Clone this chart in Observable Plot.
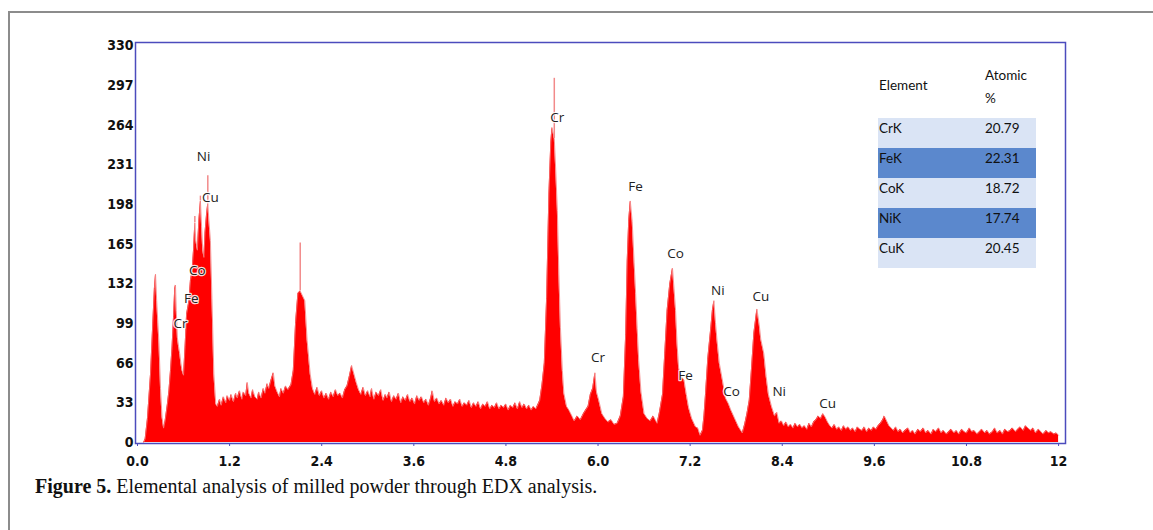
<!DOCTYPE html>
<html><head><meta charset="utf-8">
<script src="https://cdn.jsdelivr.net/npm/d3@7"></script>
<script src="https://cdn.jsdelivr.net/npm/@observablehq/plot@0.6"></script>
<style>
html,body{margin:0;padding:0;background:#fff;width:1153px;height:530px;overflow:hidden;}
#page{position:relative;width:1153px;height:530px;overflow:hidden;background:#fff;}
#outer{position:absolute;left:8px;top:11px;width:1300px;height:700px;border:2px solid #8c8c8c;box-sizing:border-box;}
#chart{position:absolute;left:0;top:0;}
#table{position:absolute;left:878px;top:62px;width:158px;font-family:Lato,"Open Sans",sans-serif;font-size:13.5px;color:#111;}
#table .hdr{position:relative;height:56px;}
#table .row{position:relative;height:30px;}
#table .c1{position:absolute;left:1px;}
#table .c2{position:absolute;left:107px;}
#caption{position:absolute;left:35px;top:475px;font-family:"Liberation Serif","Times New Roman",serif;font-size:20px;color:#111;white-space:nowrap;}
</style></head>
<body><div id="page"><div id="outer"></div><div id="chart"></div><div id="table"></div>
<div id="caption"><b>Figure 5.</b> Elemental analysis of milled powder through EDX analysis.</div></div>
<script>
// EDX spectrum: [energy keV, counts]
const spectrum = [
[0.08,0],[0.10,3],[0.13,20],[0.17,57],[0.20,100],[0.22,128],[0.235,140],[0.25,118],[0.265,100],[0.28,82],[0.30,45],[0.32,21],[0.34,12],[0.36,18],[0.39,32],[0.41,43],[0.43,60],[0.45,79],[0.47,105],[0.485,128],[0.495,131],[0.505,110],[0.52,87],[0.535,80],[0.55,74],[0.565,66],[0.58,60],[0.60,56],[0.62,80],[0.64,107],[0.66,114],[0.67,118],[0.69,135],[0.71,142],[0.73,160],[0.747,183],[0.76,168],[0.78,160],[0.80,185],[0.82,201],[0.835,180],[0.85,160],[0.865,154],[0.88,175],[0.90,190],[0.916,199],[0.93,185],[0.95,168],[0.97,120],[0.995,57],[1.02,32],[1.04,30],
[1.07,36],[1.09,31],[1.12,38],[1.15,33],[1.17,39],[1.20,35],[1.22,40],[1.25,34],[1.28,41],[1.30,37],[1.33,43],[1.36,36],[1.38,42],[1.41,39],[1.43,50],[1.45,41],[1.48,37],[1.50,44],[1.53,38],[1.56,36],[1.58,42],[1.61,37],[1.64,45],[1.66,41],[1.69,49],[1.71,45],[1.74,52],[1.77,58],[1.79,47],[1.82,42],[1.85,38],[1.87,45],[1.90,41],[1.93,47],[1.96,44],[2.00,48],[2.03,60],[2.06,100],[2.09,124],[2.12,126],[2.15,122],[2.18,118],[2.21,85],[2.25,57],[2.28,45],[2.31,40],
[2.34,46],[2.37,39],[2.40,43],[2.43,37],[2.46,41],[2.49,36],[2.52,42],[2.55,38],[2.58,44],[2.61,39],[2.64,41],[2.67,37],[2.70,44],[2.73,47],[2.76,55],[2.79,64],[2.82,57],[2.85,50],[2.88,44],[2.91,40],[2.94,46],[2.97,39],
[3.00,43],[3.03,38],[3.05,45],[3.08,36],[3.11,42],[3.14,39],[3.17,44],[3.20,35],[3.23,40],[3.25,37],[3.28,42],[3.31,34],[3.34,39],[3.37,36],[3.40,41],[3.43,33],[3.46,38],[3.49,35],[3.52,40],[3.55,34],[3.58,37],[3.61,32],[3.64,39],[3.67,35],[3.70,38],[3.73,33],[3.76,36],[3.79,31],[3.82,37],[3.84,43],[3.87,34],[3.90,37],[3.93,32],[3.96,35],[3.99,31],[4.02,37],[4.05,33],[4.08,36],[4.11,30],[4.14,34],[4.17,32],[4.20,36],[4.23,30],[4.26,33],[4.29,31],[4.32,35],[4.35,29],[4.38,33],[4.41,30],[4.44,34],[4.47,28],[4.50,32],[4.53,30],[4.56,34],[4.59,28],[4.62,31],[4.65,29],[4.68,33],[4.71,28],[4.74,31],[4.77,29],[4.80,32],[4.83,27],[4.86,31],[4.89,29],[4.92,33],[4.95,28],[4.98,34],[5.01,29],[5.04,32],[5.07,28],[5.10,31],[5.13,27],[5.16,30],[5.19,28],[5.22,32],[5.24,35],
[5.27,48],[5.30,66],[5.33,120],[5.36,207],[5.385,250],[5.40,262],[5.43,253],[5.45,225],[5.47,193],[5.49,140],[5.51,96],[5.535,60],[5.555,41],[5.59,30],[5.62,27],[5.66,22],[5.69,18],[5.73,22],[5.77,19],[5.81,24],[5.84,27],[5.87,30],[5.90,40],[5.93,45],[5.96,58],[5.98,42],[6.01,35],[6.05,24],[6.09,20],[6.13,17],[6.17,19],[6.21,15],[6.25,16],[6.29,22],
[6.33,38],[6.36,90],[6.38,151],[6.40,185],[6.42,201],[6.445,184],[6.47,150],[6.49,124],[6.51,95],[6.53,68],[6.56,42],[6.60,24],[6.64,20],[6.68,18],[6.72,22],[6.77,16],[6.80,25],[6.84,40],[6.87,75],[6.90,110],[6.935,132],[6.97,145],[6.99,128],[7.01,110],[7.03,82],[7.05,62],[7.08,55],[7.12,52],[7.15,40],[7.18,29],[7.22,20],[7.27,13],[7.30,12],[7.33,6],[7.36,10],[7.38,22],
[7.40,40],[7.43,70],[7.47,96],[7.49,110],[7.51,118],[7.53,100],[7.55,85],[7.58,66],[7.62,52],[7.66,37],[7.70,32],[7.73,27],[7.78,20],[7.83,13],[7.88,8],[7.91,15],[7.94,24],[7.97,35],[8.00,62],[8.03,91],[8.07,111],[8.10,98],[8.12,86],[8.16,74],[8.19,55],[8.22,40],[8.26,30],[8.30,22],[8.33,25],[8.36,16],[8.39,18],[8.42,14],[8.45,17],[8.48,13],[8.51,15],[8.54,12],[8.57,16],[8.60,13],[8.63,15],[8.66,12],[8.69,14],[8.72,11],[8.75,16],[8.78,13],[8.81,17],[8.84,19],[8.87,22],[8.90,20],[8.93,24],[8.96,21],[8.99,17],[9.02,14],[9.05,12],[9.08,15],[9.11,11],[9.14,13],[9.17,10],[9.20,14],[9.23,11],[9.26,13],[9.29,10],[9.32,12],[9.35,9],[9.38,13],[9.41,11],[9.44,10],[9.47,13],[9.50,9],[9.53,12],[9.56,10],[9.59,13],[9.62,11],[9.65,14],[9.68,16],[9.71,19],[9.73,22],[9.76,18],[9.79,14],[9.82,12],[9.85,10],[9.88,13],[9.91,9],[9.94,11],[9.97,8],
[10.00,10],[10.04,12],[10.07,8],[10.10,10],[10.13,7],[10.17,11],[10.20,9],[10.24,12],[10.27,8],[10.30,10],[10.34,7],[10.37,11],[10.40,9],[10.44,12],[10.47,8],[10.50,10],[10.54,7],[10.57,9],[10.60,11],[10.64,8],[10.67,10],[10.70,7],[10.74,11],[10.77,9],[10.80,8],[10.84,12],[10.87,9],[10.90,10],[10.94,7],[10.97,9],[11.00,11],[11.04,8],[11.07,10],[11.10,7],[11.14,9],[11.17,12],[11.20,8],[11.24,10],[11.27,7],[11.30,11],[11.34,9],[11.37,10],[11.40,12],[11.44,9],[11.47,11],[11.50,13],[11.54,10],[11.57,14],[11.60,12],[11.64,10],[11.67,12],[11.70,8],[11.74,11],[11.77,9],[11.80,7],[11.84,10],[11.87,8],[11.90,9],[11.94,7],[11.97,8],[12.00,6]
];

// light-coloured spike tips above the solid peaks
const tipEnergy = [0.747, 0.82, 0.916, 2.12, 5.43];
const tipBase   = [183, 201, 199, 126, 253];
const tipTop    = [188, 205, 222, 166, 303];

// peak labels
const peakLabels = ["Ni","Cu","Co","Fe","Cr","Cr","Fe","Co","Ni","Cu","Cr","Fe","Co","Ni","Cu"];
const peakEnergy = [0.86,0.95,0.78,0.70,0.56,5.47,6.49,7.01,7.56,8.12,6.00,7.14,7.74,8.36,8.99];
const peakCounts = [238,204,143,120,99,270,213,157,126,121,71,56,42,42,32];

// axis ticks
const xTicks = [0, 1.2, 2.4, 3.6, 4.8, 6.0, 7.2, 8.4, 9.6, 10.8, 12];
const xTickLabels = ["0.0","1.2","2.4","3.6","4.8","6.0","7.2","8.4","9.6","10.8","12"];
const yTicks = [0, 33, 66, 99, 132, 165, 198, 231, 264, 297, 330];

// composition table
const elements = ["CrK","FeK","CoK","NiK","CuK"];
const atomicPct = ["20.79","22.31","18.72","17.74","20.45"];

const tips = tipEnergy.map((e,i)=>({e, b: tipBase[i], t: tipTop[i]}));
const labels = peakLabels.map((s,i)=>({s, e: peakEnergy[i], c: peakCounts[i]}));
const axisFont = "'DejaVu Sans Condensed','DejaVu Sans','Liberation Sans Narrow',sans-serif";

const plot = Plot.plot({
  width: 1153, height: 480,
  marginLeft: 135, marginRight: 88, marginTop: 42, marginBottom: 37,
  x: {domain: [-0.026, 12.09], axis: null},
  y: {domain: [-0.8, 332.8], axis: null},
  style: {fontFamily: axisFont, fontSize: "14px", color: "#111", background: "transparent"},
  marks: [
    Plot.areaY(spectrum, {x: d=>d[0], y: d=>d[1], fill: "#ff0000"}),
    Plot.lineY(spectrum, {x: d=>d[0], y: d=>d[1], stroke: "#f47a7a", strokeWidth: 0.8}),
    Plot.ruleX(tips, {x: "e", y1: "b", y2: "t", stroke: "#f28a8a", strokeWidth: 1.5}),
    Plot.text(labels, {x: "e", y: "c", text: "s", fill: "#222", fontSize: 13.5, fontFamily: "'Open Sans',sans-serif", stroke: "white", strokeWidth: 2.5, strokeOpacity: 0.85}),
    Plot.axisY({ticks: yTicks, label: null, tickSize: 0, tickPadding: 2, fill: "#111", fontWeight: "bold", fontFamily: axisFont, fontSize: 14}),
    Plot.axisX({ticks: xTicks, label: null, tickFormat: d=>xTickLabels[xTicks.indexOf(d)], tickSize: 3, tickPadding: 10, stroke: "#4b4bbd", fill: "#111", fontWeight: "bold", fontFamily: axisFont, fontSize: 14}),
    Plot.frame({stroke: "#4b4bbd", strokeWidth: 1.5})
  ]
});
document.getElementById("chart").appendChild(plot);

const tbl = d3.select("#table");
const hdr = tbl.append("div").attr("class","hdr");
hdr.append("div").attr("class","c1").style("top","15px").text("Element");
hdr.append("div").attr("class","c2").style("top","5px").text("Atomic");
hdr.append("div").attr("class","c2").style("top","28px").text("%");
elements.forEach((el,i)=>{
  const r = tbl.append("div").attr("class","row").style("background", i%2 ? "#5b88cd" : "#dae4f5");
  r.append("div").attr("class","c1").style("top","2px").text(el);
  r.append("div").attr("class","c2").style("top","2px").text(atomicPct[i]);
});
</script></body></html>
